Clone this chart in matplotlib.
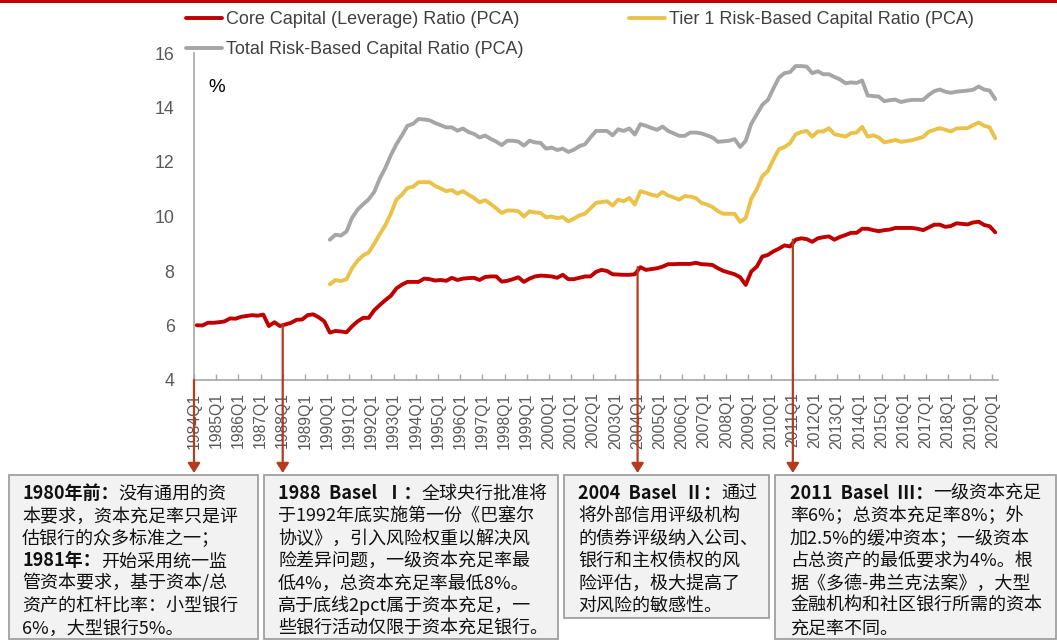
import matplotlib
matplotlib.use("Agg")
import matplotlib.pyplot as plt
from matplotlib.patches import Rectangle
from matplotlib.text import Annotation
import numpy as np

# ---------------- data ----------------
start_year = 1984
years = list(range(1984, 2021))
tick_labels = [f"{y}Q1" for y in years]

core_ratio = [6.01, 6.00, 6.10, 6.10, 6.12, 6.15, 6.26, 6.25, 6.32, 6.35,
              6.38, 6.36, 6.40, 5.98, 6.12, 5.98, 6.04, 6.10, 6.21, 6.22,
              6.38, 6.41, 6.30, 6.15, 5.74, 5.80, 5.78, 5.75, 5.97, 6.15,
              6.28, 6.28, 6.56, 6.75, 6.93, 7.09, 7.36, 7.50, 7.60, 7.60,
              7.60, 7.72, 7.70, 7.65, 7.67, 7.64, 7.75, 7.67, 7.72, 7.74,
              7.75, 7.67, 7.78, 7.80, 7.80, 7.61, 7.64, 7.70, 7.77, 7.60,
              7.72, 7.80, 7.83, 7.82, 7.80, 7.75, 7.86, 7.70, 7.70, 7.75,
              7.80, 7.80, 7.97, 8.04, 8.00, 7.88, 7.87, 7.86, 7.86, 7.88,
              8.14, 8.04, 8.07, 8.10, 8.16, 8.25, 8.25, 8.26, 8.26, 8.26,
              8.30, 8.25, 8.24, 8.22, 8.10, 8.00, 7.94, 7.88, 7.77, 7.49,
              7.98, 8.16, 8.53, 8.59, 8.72, 8.82, 8.94, 8.90, 9.15, 9.20,
              9.17, 9.07, 9.20, 9.24, 9.27, 9.15, 9.25, 9.32, 9.40, 9.40,
              9.55, 9.55, 9.50, 9.46, 9.50, 9.52, 9.58, 9.58, 9.58, 9.58,
              9.55, 9.50, 9.60, 9.70, 9.70, 9.62, 9.65, 9.75, 9.73, 9.71,
              9.78, 9.81, 9.69, 9.64, 9.42]

# risk-based ratios start in 1990Q1
risk_start_index = 24
tier1_ratio = [7.51, 7.67, 7.63, 7.70, 8.10, 8.38, 8.57, 8.68, 9.00, 9.35,
               9.68, 10.10, 10.62, 10.80, 11.05, 11.09, 11.26, 11.26, 11.26, 11.12,
               11.03, 10.93, 10.97, 10.84, 10.93, 10.80, 10.68, 10.52, 10.60, 10.46,
               10.30, 10.13, 10.22, 10.22, 10.19, 10.00, 10.19, 10.15, 10.13, 9.97,
               10.00, 9.94, 9.98, 9.82, 9.92, 10.04, 10.10, 10.30, 10.50, 10.53,
               10.56, 10.40, 10.62, 10.56, 10.68, 10.44, 10.93, 10.87, 10.80, 10.75,
               10.90, 10.77, 10.70, 10.62, 10.75, 10.73, 10.68, 10.50, 10.44, 10.35,
               10.19, 10.10, 10.10, 10.10, 9.80, 9.95, 10.65, 11.00, 11.48, 11.67,
               12.10, 12.47, 12.55, 12.69, 13.02, 13.10, 13.14, 12.93, 13.12, 13.12,
               13.24, 13.02, 12.98, 12.93, 13.06, 13.08, 13.29, 12.93, 12.98, 12.90,
               12.72, 12.76, 12.81, 12.74, 12.77, 12.80, 12.86, 12.92, 13.11, 13.18,
               13.24, 13.18, 13.12, 13.23, 13.24, 13.24, 13.35, 13.45, 13.33, 13.27,
               12.87]

total_ratio = [9.15, 9.33, 9.30, 9.45, 9.95, 10.25, 10.45, 10.63, 10.90, 11.39,
               11.78, 12.25, 12.65, 12.98, 13.33, 13.40, 13.58, 13.56, 13.53, 13.43,
               13.35, 13.27, 13.27, 13.15, 13.23, 13.10, 13.03, 12.90, 12.97, 12.85,
               12.75, 12.62, 12.78, 12.78, 12.75, 12.60, 12.78, 12.72, 12.70, 12.49,
               12.53, 12.44, 12.49, 12.37, 12.45, 12.58, 12.65, 12.90, 13.14, 13.14,
               13.14, 12.98, 13.20, 13.14, 13.23, 13.01, 13.39, 13.33, 13.25, 13.18,
               13.30, 13.14, 13.05, 12.96, 12.96, 13.08, 13.08, 13.05, 12.98, 12.90,
               12.74, 12.76, 12.78, 12.84, 12.55, 12.78, 13.40, 13.75, 14.10, 14.28,
               14.70, 15.10, 15.26, 15.30, 15.52, 15.52, 15.50, 15.26, 15.33, 15.22,
               15.22, 15.12, 15.03, 14.89, 14.92, 14.90, 14.99, 14.44, 14.42, 14.40,
               14.23, 14.27, 14.29, 14.20, 14.25, 14.28, 14.28, 14.28, 14.46, 14.60,
               14.66, 14.58, 14.54, 14.58, 14.60, 14.62, 14.65, 14.77, 14.66, 14.62,
               14.31]

series_names = ["Core Capital (Leverage) Ratio (PCA)",
                "Tier 1 Risk-Based Capital Ratio (PCA)",
                "Total Risk-Based Capital Ratio (PCA)"]

# annotated milestones (year of the Q1 tick they point to)
milestone_years = [1984, 1988, 2004, 2011]

box_texts = [
    [[("1980年前：", True), ("没有通用的资", False)],
     [("本要求，资本充足率只是评", False)],
     [("估银行的众多标准之一；", False)],
     [("1981年：", True), ("开始采用统一监", False)],
     [("管资本要求，基于资本/总", False)],
     [("资产的杠杆比率：小型银行", False)],
     [("6%，大型银行5%。", False)]],
    [[("1988  Basel  Ⅰ：", True), ("全球央行批准将", False)],
     [("于1992年底实施第一份《巴塞尔", False)],
     [("协议》，引入风险权重以解决风", False)],
     [("险差异问题，一级资本充足率最", False)],
     [("低4%，总资本充足率最低8%。", False)],
     [("高于底线2pct属于资本充足，一", False)],
     [("些银行活动仅限于资本充足银行。", False)]],
    [[("2004  Basel  Ⅱ：", True), ("通过", False)],
     [("将外部信用评级机构", False)],
     [("的债券评级纳入公司、", False)],
     [("银行和主权债权的风", False)],
     [("险评估，极大提高了", False)],
     [("对风险的敏感性。", False)]],
    [[("2011  Basel  Ⅲ：", True), ("一级资本充足", False)],
     [("率6%；总资本充足率8%；外", False)],
     [("加2.5%的缓冲资本；一级资本", False)],
     [("占总资产的最低要求为4%。根", False)],
     [("据《多德-弗兰克法案》，大型", False)],
     [("金融机构和社区银行所需的资本", False)],
     [("充足率不同。", False)]],
]

# ---------------- style ----------------
W, H = 1057, 640
RED = "#C00000"
YELLOW = "#EAC24A"
GRAY = "#A6A6A6"
AXIS = "#A6A6A6"
TICKTXT = "#595959"
ARROW = "#B53B1C"
CJK = ["Noto Sans CJK SC", "DejaVu Sans"]
LATIN = ["Liberation Sans", "DejaVu Sans"]

def fx(px):
    return px / W

def fy(py):
    return 1 - py / H

fig = plt.figure(figsize=(W / 100, H / 100), dpi=100)
fig.patch.set_facecolor("white")

# top red band
fig.add_artist(Rectangle((0, fy(3)), 1, 3 / H, transform=fig.transFigure,
                         facecolor=RED, edgecolor="none"))

ax = fig.add_axes([fx(194), fy(380), fx(998) - fx(194), fy(53) - fy(380)])

n = len(core_ratio)
x_core = np.arange(n) + 0.5
x_risk = np.arange(len(tier1_ratio)) + risk_start_index + 0.5

l_core, = ax.plot(x_core, core_ratio, color=RED, lw=2.8, solid_joinstyle="round",
                  solid_capstyle="round", label=series_names[0], zorder=3)
l_t1, = ax.plot(x_risk, tier1_ratio, color=YELLOW, lw=2.8, solid_joinstyle="round",
                solid_capstyle="round", label=series_names[1], zorder=3)
l_tot, = ax.plot(x_risk, total_ratio, color=GRAY, lw=2.8, solid_joinstyle="round",
                 solid_capstyle="round", label=series_names[2], zorder=3)

ax.set_xlim(0, n)
ax.set_ylim(4, 16)
ax.set_yticks(np.arange(4, 17, 2))
tick_pos = [(y - start_year) * 4 for y in years]
ax.set_xticks(tick_pos)
ax.set_xticklabels(tick_labels, rotation=90, family=LATIN, fontsize=11.3, color=TICKTXT)
for lab in ax.get_yticklabels():
    lab.set_family(LATIN)
ax.tick_params(axis="y", length=0, pad=14, labelsize=12.8, labelcolor=TICKTXT)
ax.tick_params(axis="x", direction="in", length=4, width=1, color=AXIS, pad=9)

for s in ["top", "right"]:
    ax.spines[s].set_visible(False)
for s in ["left", "bottom"]:
    ax.spines[s].set_color(AXIS)
    ax.spines[s].set_linewidth(1.2)

ax.text(fx(208), fy(87), "%", transform=fig.transFigure, fontsize=13.5,
        family=LATIN, color="black", va="center", ha="left")

# legend
fig.legend(handles=[l_core, l_tot, l_t1],
           labels=[series_names[0], series_names[2], series_names[1]],
           ncol=2, loc="upper left", bbox_to_anchor=(fx(186), fy(11)),
           frameon=False, prop={"family": LATIN, "size": 13},
           handlelength=2.0, handletextpad=0.2, columnspacing=5.85,
           labelspacing=0.74, borderaxespad=0, borderpad=0,
           labelcolor="#404040")

# ---------------- boxes ----------------
boxes = [(8.5, 257.5, 475, 638.5), (263.5, 557.5, 475, 638.5),
         (564, 768.5, 475, 617.5), (775, 1056, 475, 638.5)]
text_x = [22, 278, 578, 790]
first_base = 499
line_gap = 22.4
FS = 13.0

for (x0, x1, y0, y1), tx, lines in zip(boxes, text_x, box_texts):
    fig.add_artist(Rectangle((fx(x0), fy(y1)), fx(x1) - fx(x0), fy(y0) - fy(y1),
                             transform=fig.transFigure, facecolor="#F2F2F2",
                             edgecolor="#A0A0A0", lw=1.3, zorder=1))
    for i, segs in enumerate(lines):
        yb = first_base + i * line_gap
        prev = None
        for txt, bold in segs:
            w = "bold" if bold else "normal"
            if prev is None:
                prev = fig.text(fx(tx), fy(yb), txt, family=CJK, fontsize=FS,
                                fontweight=w, color="#111111", va="baseline",
                                ha="left", zorder=2)
            else:
                a = Annotation(txt, xy=(1, 0), xycoords=prev, va="bottom",
                               ha="left", family=CJK, fontsize=FS,
                               fontweight=w, color="#111111",
                               annotation_clip=False, zorder=2)
                fig.add_artist(a)
                prev = a

# ---------------- arrows ----------------
for yr in milestone_years:
    q = (yr - start_year) * 4
    tail_y = 4 if q == 0 else core_ratio[q]
    ax.annotate("", xy=(q, fy(473)), xycoords=("data", "figure fraction"),
                xytext=(q, tail_y), textcoords="data",
                arrowprops=dict(arrowstyle="-|>,head_width=0.37,head_length=0.58",
                                color=ARROW, lw=1.6, shrinkA=0, shrinkB=0),
                annotation_clip=False, zorder=4)

fig.savefig("out.png", dpi=100)
